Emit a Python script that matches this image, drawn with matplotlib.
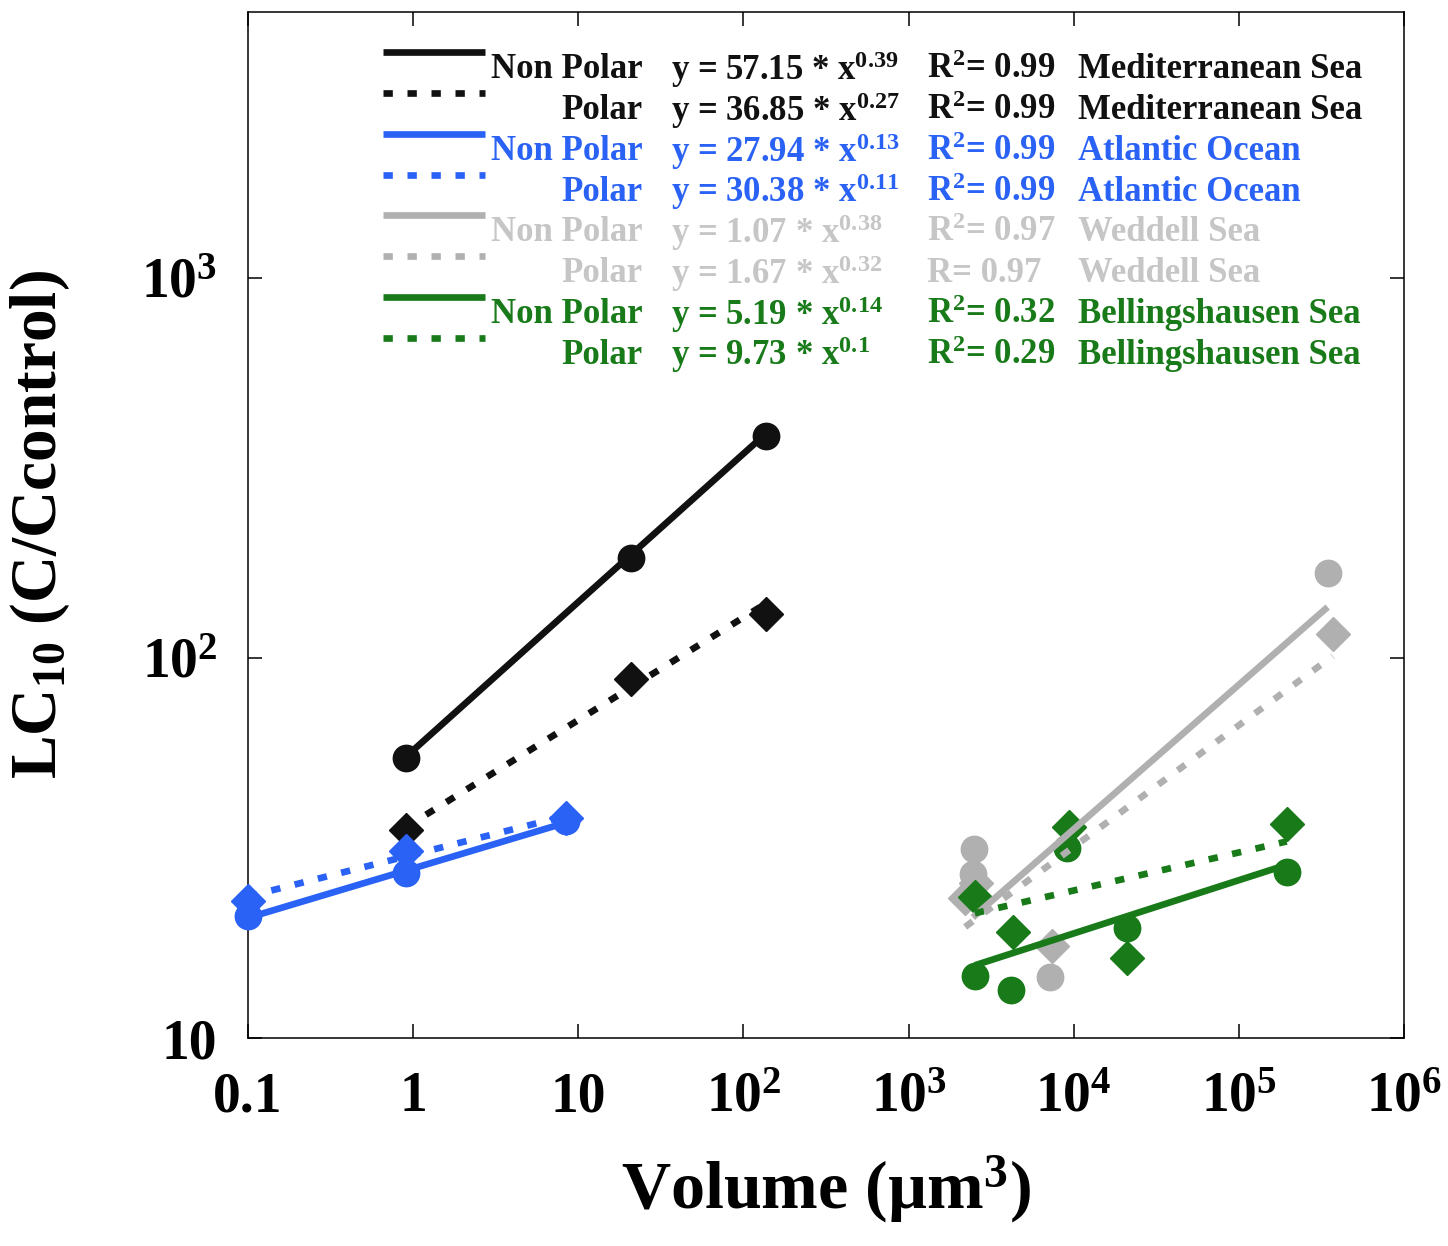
import numpy as np
import matplotlib
matplotlib.use("Agg")
import matplotlib.pyplot as plt

#### Fonts: Times-like bold everywhere, also inside mathtext ####
plt.rcParams['font.family'] = 'Liberation Serif'
plt.rcParams['font.weight'] = 'bold'
plt.rcParams['mathtext.fontset'] = 'custom'
plt.rcParams['mathtext.rm'] = 'Liberation Serif:bold'
plt.rcParams['mathtext.it'] = 'Liberation Serif:bold'
plt.rcParams['mathtext.bf'] = 'Liberation Serif:bold'
plt.rcParams['mathtext.default'] = 'rm'

#### Data ####
# Mediterranean Sea
med_np_x = [0.9, 20.8, 137]
med_np_y = [54.6, 183, 383]
med_p_x = [0.9, 20.8, 137]
med_p_y = [35.2, 88.1, 130.5]
# Atlantic Ocean
atl_np_x = [0.1, 0.9, 8.4]
atl_np_y = [21.0, 27.1, 37.3]
atl_p_x = [0.1, 0.9, 8.4]
atl_p_y = [23.0, 31.1, 38.0]
# Weddell Sea
wed_np_x = [2500, 2450, 7160, 345000]
wed_np_y = [31.5, 27.0, 14.5, 167]
wed_p_x = [2200, 2550, 7400, 370000]
wed_p_y = [23.3, 25.5, 17.5, 115.6]
# Bellingshausen Sea
bel_np_x = [2518, 4200, 9080, 20950, 197000]
bel_np_y = [14.6, 13.4, 31.7, 19.5, 27.3]
bel_p_x = [2518, 4276, 9300, 20950, 195000]
bel_p_y = [23.5, 19.0, 35.8, 16.2, 36.6]

# fit coefficients (y = a * x^b) as printed in the legend
fit_a = [57.15, 36.85, 27.94, 30.38, 1.07, 1.67, 5.19, 9.73]
fit_b = [0.39, 0.27, 0.13, 0.11, 0.38, 0.32, 0.14, 0.1]
fit_r2 = ['R$^2$= 0.99', 'R$^2$= 0.99', 'R$^2$= 0.99', 'R$^2$= 0.99',
          'R$^2$= 0.97', 'R= 0.97', 'R$^2$= 0.32', 'R$^2$= 0.29']
kinds = ['Non Polar', 'Polar'] * 4
regions = ['Mediterranean Sea', 'Mediterranean Sea', 'Atlantic Ocean', 'Atlantic Ocean',
           'Weddell Sea', 'Weddell Sea', 'Bellingshausen Sea', 'Bellingshausen Sea']

xticks = [0.1, 1, 10, 1e2, 1e3, 1e4, 1e5, 1e6]
xticklabels = ['0.1', '1', '10', '10$^2$', '10$^3$', '10$^4$', '10$^5$', '10$^6$']
yticks = [10, 100, 1000]
yticklabels = ['10', '10$^2$', '10$^3$']

BLACK = '#111111'
BLUE = '#2a62f5'
GRAY = '#b0b0b0'
GRAY_TXT = '#c6c6c6'
GREEN = '#187a18'

series = [
    (med_np_x, med_np_y, BLACK, 'o', '-'),
    (med_p_x, med_p_y, BLACK, 'D', 'dot'),
    (atl_np_x, atl_np_y, BLUE, 'o', '-'),
    (atl_p_x, atl_p_y, BLUE, 'D', 'dot'),
    (wed_np_x, wed_np_y, GRAY, 'o', '-'),
    (wed_p_x, wed_p_y, GRAY, 'D', 'dot'),
    (bel_np_x, bel_np_y, GREEN, 'o', '-'),
    (bel_p_x, bel_p_y, GREEN, 'D', 'dot'),
]
text_colors = [BLACK, BLACK, BLUE, BLUE, GRAY_TXT, GRAY_TXT, GREEN, GREEN]

LW = 4.8
DOT = (0, (1.4, 2.2))

fig = plt.figure(figsize=(14.48, 12.46), dpi=100)
ax = fig.add_axes([0.1713, 0.1669, 0.9696 - 0.1713, 0.9904 - 0.1669])

#### Points and fitted power laws ####
for i, (x, y, col, mk, ls) in enumerate(series):
    ms = 19 if mk == 'o' else 17
    ax.plot(x, y, linestyle='none', marker=mk, ms=ms, color=col,
            markeredgecolor=col, clip_on=False, zorder=3)
    xs = np.array([min(x), max(x)])
    ys = fit_a[i] * xs ** fit_b[i]
    style = '-' if ls == '-' else DOT
    ax.plot(xs, ys, linestyle=style, lw=LW, color=col, zorder=4,
            dash_capstyle='butt', solid_capstyle='butt')

#### Axes ####
ax.set_xscale('log')
ax.set_yscale('log')
ax.set_xlim(0.1, 1e6)
ax.set_ylim(10, 5000)
ax.set_xticks(xticks, xticklabels)
ax.set_yticks(yticks, yticklabels)
ax.xaxis.set_minor_locator(matplotlib.ticker.NullLocator())
ax.yaxis.set_minor_locator(matplotlib.ticker.NullLocator())
ax.tick_params(which='major', direction='in', length=10, width=1.1,
               top=True, right=True, labelsize=40)
ax.tick_params(axis='x', pad=24)
ax.tick_params(axis='y', pad=22)
for lab in ax.get_yticklabels():
    lab.set_va('center_baseline')
for sp in ax.spines.values():
    sp.set_linewidth(1.1)

ax.set_xlabel('Volume (µm$^3$)', fontsize=49, fontweight='bold', labelpad=22)
ax.set_ylabel('LC$_{10}$ (C/Ccontrol)', fontsize=47, fontweight='bold')
ax.yaxis.set_label_coords(-0.152, 0.5)

#### Legend block: keys and aligned text columns ####
row0 = 0.9435
pitch = 0.0397
for i, (x, y, col, mk, ls) in enumerate(series):
    ty = row0 - i * pitch
    ky = ty + 0.017
    style = '-' if ls == '-' else DOT
    ax.plot([0.1168, 0.2047], [ky, ky], transform=ax.transAxes, color=col,
            lw=LW, linestyle=style, dash_capstyle='butt',
            solid_capstyle='butt', clip_on=False)
    tc = text_colors[i]
    ax.text(0.341, ty, kinds[i], transform=ax.transAxes, ha='right', va='center',
            fontsize=25, color=tc)
    ax.text(0.366, ty, 'y = %.2f * x$^{%s}$' % (fit_a[i], fit_b[i]),
            transform=ax.transAxes, ha='left', va='center', fontsize=25, color=tc)
    ax.text(0.587, ty, fit_r2[i], transform=ax.transAxes, ha='left', va='center',
            fontsize=25, color=tc)
    ax.text(0.718, ty, regions[i], transform=ax.transAxes, ha='left', va='center',
            fontsize=25, color=tc)

fig.savefig('out.png', dpi=100)
